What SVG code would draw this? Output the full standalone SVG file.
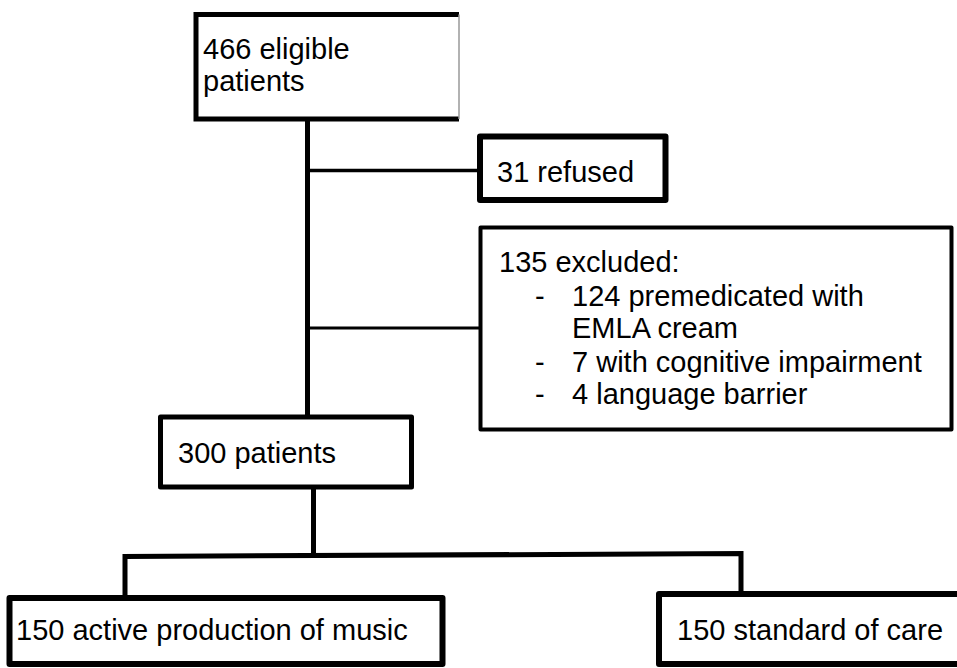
<svg xmlns="http://www.w3.org/2000/svg" width="957" height="668" viewBox="0 0 957 668">
<style>
  text { font-family: "Liberation Sans", Arial, sans-serif; font-size: 29px; fill: #000; }
  .box { fill: #fff; stroke: #000; stroke-linejoin: round; }
  .ln { stroke: #000; fill: none; }
</style>
<rect width="957" height="668" fill="#fff"/>
<g id="connectors">
  <line class="ln" x1="307.5" y1="119" x2="307.5" y2="417" stroke-width="5"/>
  <line class="ln" x1="307.5" y1="170.5" x2="480" y2="170.5" stroke-width="3.5"/>
  <line class="ln" x1="307.5" y1="328" x2="480" y2="328" stroke-width="3"/>
  <line class="ln" x1="313.5" y1="487" x2="313.5" y2="555" stroke-width="5"/>
  <polyline class="ln" points="125,597 125,556.5 741,553.5 741,593" stroke-width="5" stroke-linejoin="miter"/>
</g>
<g id="n-eligible">
  <rect x="196" y="14.5" width="263" height="104.5" fill="#fff" stroke="none"/>
  <path d="M196,14.5 H459 M196,119 H459 M196,12 V121.5" class="ln" stroke-width="5"/>
  <line x1="459" y1="14.5" x2="459" y2="119" stroke="#999" stroke-width="1.5"/>
  <text x="203" y="59">466 eligible</text>
  <text x="203" y="91">patients</text>
</g>
<g id="n-refused">
  <rect class="box" x="480" y="136.5" width="185.5" height="63.5" stroke-width="6"/>
  <text x="497" y="182">31 refused</text>
</g>
<g id="n-excluded">
  <rect class="box" x="480.5" y="227.5" width="471" height="202" stroke-width="4"/>
  <text x="499" y="272">135 excluded:</text>
  <text x="535" y="306">-</text>
  <text x="572" y="306">124 premedicated with</text>
  <text x="572" y="338">EMLA cream</text>
  <text x="535" y="372">-</text>
  <text x="572" y="372">7 with cognitive impairment</text>
  <text x="535" y="404">-</text>
  <text x="572" y="404">4 language barrier</text>
</g>
<g id="n-300">
  <rect class="box" x="160.5" y="417" width="251" height="70" stroke-width="5"/>
  <text x="178" y="463">300 patients</text>
</g>
<g id="n-music">
  <rect class="box" x="9.5" y="598" width="433" height="66" stroke-width="6"/>
  <text x="16" y="640">150 active production of music</text>
</g>
<g id="n-care">
  <rect class="box" x="659" y="594" width="304" height="70" stroke-width="6"/>
  <text x="677" y="640">150 standard of care</text>
</g>
</svg>
